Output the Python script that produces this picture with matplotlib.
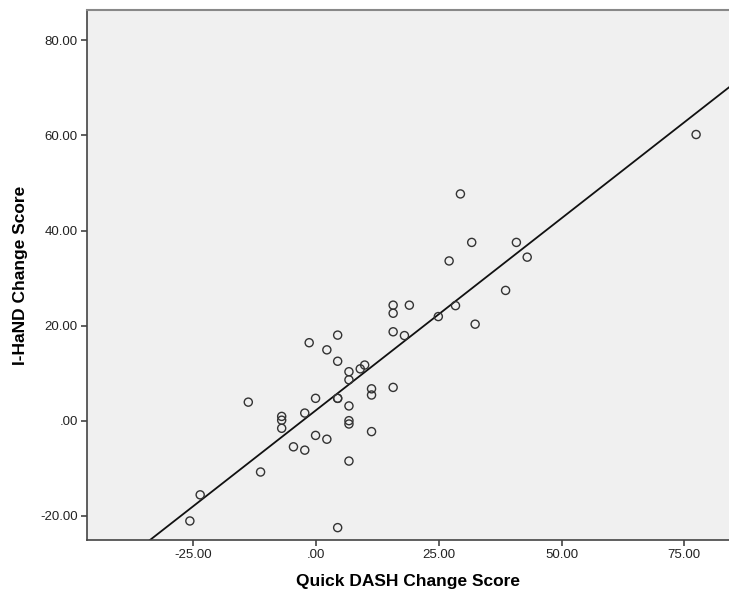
import numpy as np
import matplotlib
matplotlib.use("Agg")
import matplotlib.pyplot as plt
from matplotlib.ticker import FuncFormatter

# Quick DASH vs I-HaND change scores
dash_change = [77.4, 29.4, 31.7, 40.8, 27.1, 43.0, 38.6, 28.4, 15.7, 19.0,
               15.7, 24.9, 32.4, 15.7, 18.0, 4.4, -1.4, 2.2, 4.4, 9.9,
               9.0, 6.7, 6.7, 11.3, 15.7, 11.3, -13.8, -0.1, 4.4, 4.4,
               -2.3, -7.0, -7.0, -7.0, 6.7, 6.7, 6.7, -0.1, 2.2, 11.3,
               -4.6, -2.3, 6.7, -11.3, -23.6, -25.7, 4.4]
ihand_change = [60.2, 47.7, 37.5, 37.5, 33.6, 34.4, 27.4, 24.2, 24.3, 24.3,
                22.6, 21.9, 20.3, 18.7, 17.9, 18.0, 16.4, 14.9, 12.5, 11.7,
                10.9, 10.3, 8.6, 6.7, 7.0, 5.4, 3.9, 4.7, 4.7, 4.7,
                1.6, 0.9, 0.1, -1.6, 3.1, 0.0, -0.7, -3.1, -3.9, -2.3,
                -5.5, -6.2, -8.5, -10.8, -15.6, -21.1, -22.5]

x_ticks = [-25, 0, 25, 50, 75]
y_ticks = [-20, 0, 20, 40, 60, 80]

plt.rcParams['font.family'] = ['Liberation Sans', 'DejaVu Sans']

fig = plt.figure(figsize=(7.29, 5.93), dpi=100)
ax = fig.add_axes([0.119, 0.0894, 0.881, 0.893])
ax.set_facecolor('#F0F0F0')

ax.scatter(dash_change, ihand_change, s=34, facecolors='none',
           edgecolors='#333333', linewidths=1.0, zorder=3)

xlim = (-46.7, 84.1)
ax.set_xlim(xlim)
ax.set_ylim(-25.1, 86.3)

# least squares fit line
slope, intercept = np.polyfit(dash_change, ihand_change, 1)
xs = np.array(xlim)
ax.plot(xs, slope * xs + intercept, color='#111111', linewidth=1.3, zorder=2)

def spss_fmt(v, pos):
    s = f"{v:.2f}"
    return ".00" if v == 0 else s

ax.xaxis.set_major_formatter(FuncFormatter(spss_fmt))
ax.yaxis.set_major_formatter(FuncFormatter(spss_fmt))
ax.set_xticks(x_ticks)
ax.set_yticks(y_ticks)
ax.tick_params(direction='out', length=4.5, width=1.2, color='#444444',
               labelsize=9.5, labelcolor='#222222', pad=2)

for side in ['left', 'bottom']:
    ax.spines[side].set_color('#444444')
    ax.spines[side].set_linewidth(1.2)
ax.spines['top'].set_color('#888888')
ax.spines['top'].set_linewidth(1.5)
ax.spines['right'].set_visible(False)

ax.set_xlabel('Quick DASH Change Score', fontsize=12.5, fontweight='bold', labelpad=9)
ax.set_ylabel('I-HaND Change Score', fontsize=12.5, fontweight='bold', labelpad=9)

fig.savefig('out.png', dpi=100)
